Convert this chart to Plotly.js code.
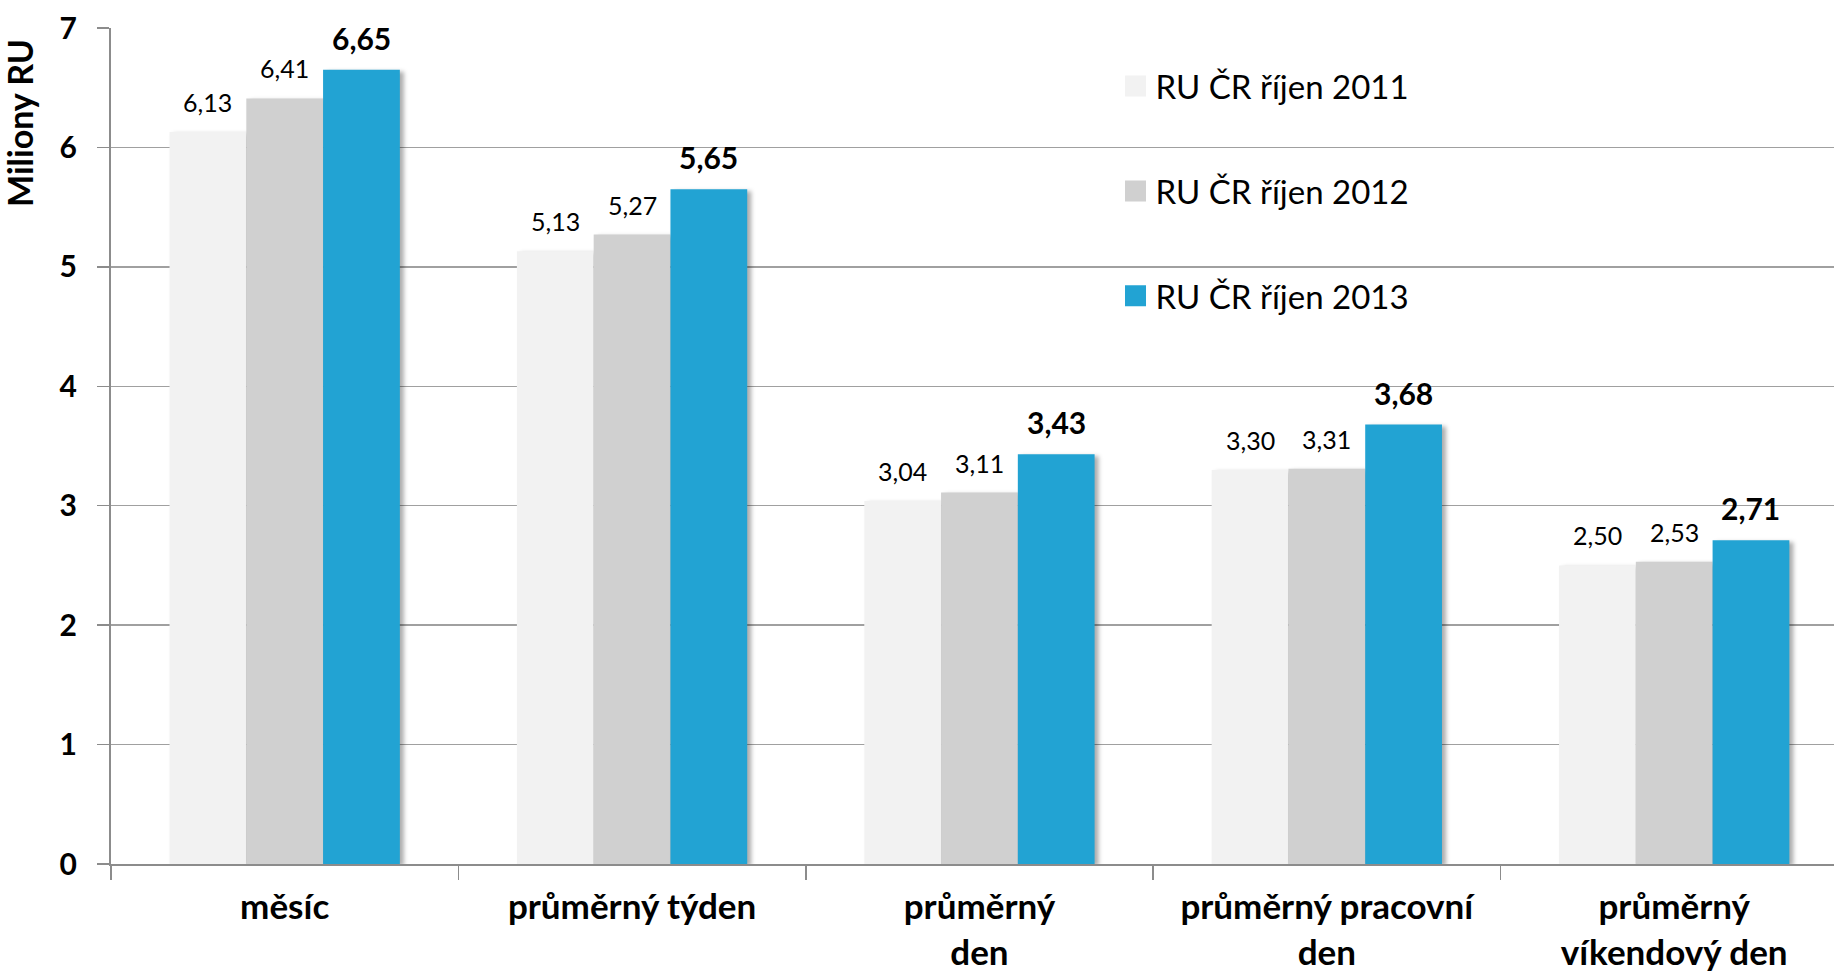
<!DOCTYPE html>
<html>
<head>
<meta charset="utf-8">
<script src="https://cdn.plot.ly/plotly-3.0.1.min.js"></script>
<style>
html,body{margin:0;padding:0;background:#fff;}
#chart{width:1834px;height:976px;}
.barlayer .trace{filter:drop-shadow(4px 2px 2px rgba(0,0,0,0.32));}
</style>
</head>
<body>
<div id="chart"></div>
<script>
// ---- data ----
const categories = ["měsíc", "průměrný týden", "průměrný den", "průměrný pracovní den", "průměrný víkendový den"];
const categoryLabels = ["měsíc", "průměrný týden", "průměrný<br>den", "průměrný pracovní<br>den", "průměrný<br>víkendový den"];
const seriesNames = ["RU ČR říjen 2011", "RU ČR říjen 2012", "RU ČR říjen 2013"];
const values2011 = [6.13, 5.13, 3.04, 3.30, 2.50];
const values2012 = [6.41, 5.27, 3.11, 3.31, 2.53];
const values2013 = [6.65, 5.65, 3.43, 3.68, 2.71];
const yTickValues = [0, 1, 2, 3, 4, 5, 6, 7];

// ---- styling ----
const colors = ["#f2f2f2", "#d0d0d0", "#22a3d3"];
const allValues = [values2011, values2012, values2013];
const FONT = "Lato, 'Open Sans', sans-serif";
const bargap = 0.337;

const traces = allValues.map((vals, k) => ({
  type: "bar",
  name: seriesNames[k],
  x: categories,
  y: vals,
  marker: {color: colors[k], line: {width: 0}},
  legendgroup: "g" + k,
  hoverinfo: "x+y+name"
}));

// data labels above bars (positioned via axis scales)
const barW = (1 - bargap) / allValues.length;
const annotations = [];
allValues.forEach((vals, k) => {
  vals.forEach((v, i) => {
    annotations.push({
      x: i + (k - (allValues.length - 1) / 2) * barW,
      y: v,
      xref: "x", yref: "y",
      text: v.toFixed(2).replace(".", ","),
      showarrow: false,
      yanchor: "bottom",
      xanchor: "center",
      yshift: k === 2 ? 12 : 13,
      font: {family: FONT, size: k === 2 ? 30 : 25, color: "#000", weight: k === 2 ? "bold" : "normal"}
    });
  });
});
// y-axis title placed near top as in the reference
annotations.push({
  xref: "paper", yref: "paper",
  x: -0.053, y: 0.886,
  text: "Miliony RU",
  textangle: -90,
  showarrow: false,
  xanchor: "center", yanchor: "middle",
  font: {family: FONT, size: 34, color: "#000", weight: "bold"}
});

const layout = {
  width: 1834, height: 976,
  margin: {l: 111, r: 0, t: 28, b: 112},
  paper_bgcolor: "#fff", plot_bgcolor: "#fff",
  barmode: "group",
  bargap: bargap,
  bargroupgap: 0,
  separators: ", ",
  font: {family: FONT, color: "#000"},
  showlegend: true,
  legend: {
    x: 0.583, y: 0.964, xanchor: "left", yanchor: "top",
    bgcolor: "rgba(0,0,0,0)",
    font: {family: FONT, size: 33, color: "#000"},
    tracegroupgap: 59,
    traceorder: "grouped"
  },
  xaxis: {
    type: "category",
    range: [-0.5, 4.46],
    tickmode: "array",
    tickvals: categories,
    ticktext: categoryLabels,
    tickson: "boundaries",
    ticks: "outside",
    ticklen: 14,
    tickwidth: 1.5,
    tickcolor: "#8c8c8c",
    showline: true,
    linecolor: "#8c8c8c",
    linewidth: 2,
    showgrid: false,
    tickfont: {family: FONT, size: 35, color: "#000", weight: "bold"},
    ticklabelstandoff: 11,
    fixedrange: true
  },
  yaxis: {
    range: [0, 7],
    tickmode: "array",
    tickvals: yTickValues,
    ticktext: yTickValues.map(String),
    ticks: "outside",
    ticklen: 12,
    tickwidth: 1.5,
    tickcolor: "#8c8c8c",
    showline: true,
    linecolor: "#8c8c8c",
    linewidth: 2,
    showgrid: true,
    gridcolor: "#a0a0a0",
    gridwidth: 1.5,
    zeroline: false,
    tickfont: {family: FONT, size: 30, color: "#000", weight: "bold"},
    ticklabelstandoff: 14,
    fixedrange: true
  },
  annotations: annotations
};

Plotly.newPlot("chart", traces, layout, {displayModeBar: false, staticPlot: true}).then(() => {
  document.querySelectorAll(".legend .legendpoints path").forEach(p => {
    const t = p.getAttribute("transform") || "";
    p.setAttribute("transform", t + " scale(1.75)");
  });
});
</script>
</body>
</html>
